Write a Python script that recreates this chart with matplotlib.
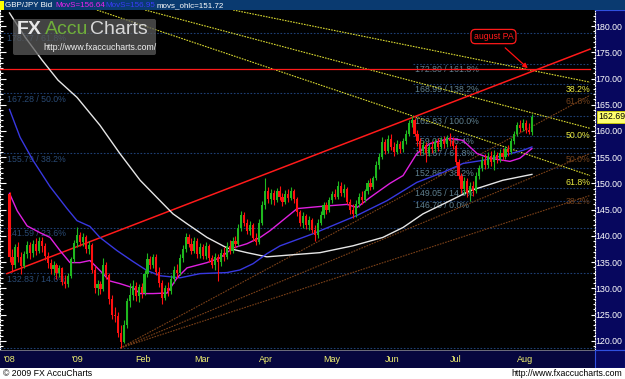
import numpy as np
import matplotlib
matplotlib.use("Agg")
import matplotlib.pyplot as plt
from matplotlib.patches import Rectangle, FancyBboxPatch

plt.rcParams['font.family'] = ['Liberation Sans', 'DejaVu Sans']

# daily candles, 3 Dec 2008 .. 10 Aug 2009 (bar index 0..178)
opens = [148.0, 136.0, 134.5, 137.8, 136.0, 134.2, 136.5, 138.2, 136.8, 138.5, 137.2, 139.0, 138.0, 136.2, 134.8,
         133.6, 134.5, 133.0, 133.8, 131.2, 130.8, 132.4, 135.5, 138.6, 140.2, 138.8, 139.8, 137.5, 138.2, 133.5,
         130.0, 130.8, 129.8, 134.5, 132.5, 128.0, 125.0, 124.8, 121.5, 119.8, 123.0, 127.5, 128.8, 130.5, 128.5,
         130.2, 129.2, 132.8, 135.6, 134.5, 136.0, 133.2, 131.0, 128.2, 130.0, 129.4, 131.8, 133.5, 133.0, 135.8,
         137.5, 139.8, 138.5, 137.2, 139.0, 136.5, 137.8, 136.2, 138.0, 135.8, 134.5, 136.0, 135.0, 136.8, 136.0,
         138.0, 137.2, 139.0, 138.4, 141.5, 144.0, 142.5, 141.0, 142.0, 139.5, 138.8, 142.5, 145.8, 148.5, 147.0,
         148.2, 146.8, 148.5, 147.5, 146.5, 148.0, 147.2, 148.6, 147.0, 144.5, 142.5, 143.8, 142.0, 143.0, 141.2,
         140.2, 142.5, 144.0, 145.8, 145.0, 146.8, 148.0, 147.5, 149.5, 148.2, 149.0, 146.5, 145.0, 144.2, 146.0,
         147.5, 146.8, 148.5, 150.0, 149.4, 151.0, 153.5, 155.0, 157.8, 156.2, 158.4, 157.0, 156.0, 157.5, 156.5,
         158.0, 159.5, 161.5, 162.0, 159.5, 158.0, 156.2, 157.4, 155.8, 157.0, 156.5, 157.8, 157.0, 158.2, 157.5,
         158.6, 158.0, 157.2, 154.0, 151.5, 149.0, 150.5, 148.2, 149.5, 148.6, 151.5, 153.0, 154.5, 153.5, 155.2,
         154.0, 155.5, 154.6, 155.8, 155.0, 156.5, 156.0, 158.0, 159.5, 161.2, 160.5, 161.5, 160.2, 159.8]
highs = [148.4, 137.5, 138.5, 138.8, 137.0, 137.2, 139.0, 138.8, 139.3, 139.6, 139.8, 139.8, 138.6, 137.0, 135.5,
         135.2, 134.8, 134.4, 134.0, 132.6, 133.0, 136.0, 139.2, 141.6, 140.8, 140.5, 140.2, 139.0, 138.6, 134.2,
         131.6, 131.4, 135.8, 135.0, 133.0, 128.8, 126.5, 125.5, 123.0, 124.0, 128.2, 131.0, 131.5, 131.2, 130.8,
         131.0, 133.5, 136.8, 136.2, 136.6, 136.5, 134.0, 131.5, 130.6, 131.2, 132.5, 134.2, 134.6, 136.5, 138.2,
         140.6, 140.4, 139.6, 139.8, 139.5, 138.6, 138.4, 138.8, 138.5, 136.4, 136.8, 136.5, 137.5, 137.8, 138.8,
         139.2, 139.8, 140.0, 142.2, 144.8, 144.5, 143.2, 142.8, 142.4, 140.5, 143.2, 146.6, 151.1, 149.4, 149.0,
         148.8, 149.2, 149.5, 148.2, 148.8, 149.0, 149.3, 149.0, 147.4, 145.0, 144.6, 144.2, 143.8, 143.4, 142.0,
         143.2, 144.8, 146.4, 146.5, 147.5, 148.6, 149.0, 150.5, 150.2, 149.8, 149.4, 147.0, 146.0, 146.8, 148.2,
         148.5, 149.0, 150.6, 151.0, 151.5, 154.2, 155.8, 158.8, 158.4, 159.2, 159.5, 157.8, 158.2, 158.0, 158.6,
         160.2, 162.0, 162.8, 162.4, 160.2, 158.6, 158.0, 157.8, 157.6, 158.0, 158.4, 158.6, 158.8, 159.0, 159.2,
         159.7, 158.8, 157.6, 154.6, 152.0, 151.2, 151.0, 150.2, 150.4, 152.2, 153.6, 155.2, 155.6, 156.0, 156.2,
         156.3, 156.0, 156.5, 156.8, 157.2, 157.4, 158.6, 160.0, 161.8, 162.0, 162.2, 162.0, 161.6, 163.3]
lows = [135.0, 133.2, 133.8, 135.0, 132.8, 133.8, 135.8, 135.5, 136.0, 136.4, 136.8, 137.0, 135.4, 133.8, 132.8,
        132.6, 131.8, 132.2, 130.6, 130.0, 130.2, 132.0, 135.0, 137.8, 138.0, 138.0, 136.8, 136.5, 133.0, 129.2,
        128.8, 129.0, 129.5, 131.8, 127.0, 124.2, 123.5, 120.8, 118.6, 119.5, 122.5, 126.5, 127.8, 127.6, 127.4,
        128.2, 128.8, 132.2, 133.6, 133.8, 132.6, 130.2, 127.0, 127.8, 128.5, 129.0, 131.0, 132.0, 132.6, 135.0,
        137.0, 137.8, 136.5, 136.8, 135.8, 135.8, 135.5, 135.6, 135.0, 133.8, 133.5, 131.4, 134.2, 135.2, 135.6,
        136.6, 136.8, 137.6, 138.0, 141.0, 141.8, 140.4, 140.2, 139.0, 138.2, 138.4, 142.0, 145.2, 146.2, 146.0,
        145.8, 146.4, 146.8, 145.6, 146.0, 146.5, 146.8, 146.2, 143.8, 141.8, 141.5, 141.4, 141.2, 140.6, 139.1,
        139.6, 142.0, 143.5, 144.2, 144.6, 146.2, 147.0, 147.0, 147.6, 147.5, 146.0, 144.2, 143.4, 143.6, 145.5,
        146.0, 146.4, 148.0, 148.8, 149.0, 150.6, 152.8, 154.6, 155.6, 155.8, 156.4, 155.2, 155.6, 155.8, 156.0,
        157.5, 159.0, 160.8, 159.0, 157.2, 155.4, 155.6, 154.0, 155.2, 155.8, 156.0, 156.2, 156.6, 156.8, 157.0,
        157.2, 156.6, 153.6, 150.8, 148.2, 148.0, 147.4, 146.7, 147.6, 148.2, 150.8, 152.4, 152.8, 153.0, 153.4,
        152.6, 153.8, 154.0, 154.5, 154.6, 155.2, 155.6, 157.6, 159.0, 159.8, 160.0, 159.6, 159.4, 159.2]
closes = [136.0, 134.5, 137.8, 136.0, 134.2, 136.5, 138.2, 136.8, 138.5, 137.2, 139.0, 138.0, 136.2, 134.8, 133.6,
          134.5, 133.0, 133.8, 131.2, 130.8, 132.4, 135.5, 138.6, 140.2, 138.8, 139.8, 137.5, 138.2, 133.5, 130.0,
          130.8, 129.8, 134.5, 132.5, 128.0, 125.0, 124.8, 121.5, 119.8, 123.0, 127.5, 128.8, 130.5, 128.5, 130.2,
          129.2, 132.8, 135.6, 134.5, 136.0, 133.2, 131.0, 128.2, 130.0, 129.4, 131.8, 133.5, 133.0, 135.8, 137.5,
          139.8, 138.5, 137.2, 139.0, 136.5, 137.8, 136.2, 138.0, 135.8, 134.5, 136.0, 135.0, 136.8, 136.0, 138.0,
          137.2, 139.0, 138.4, 141.5, 144.0, 142.5, 141.0, 142.0, 139.5, 138.8, 142.5, 145.8, 148.5, 147.0, 148.2,
          146.8, 148.5, 147.5, 146.5, 148.0, 147.2, 148.6, 147.0, 144.5, 142.5, 143.8, 142.0, 143.0, 141.2, 140.2,
          142.5, 144.0, 145.8, 145.0, 146.8, 148.0, 147.5, 149.5, 148.2, 149.0, 146.5, 145.0, 144.2, 146.0, 147.5,
          146.8, 148.5, 150.0, 149.4, 151.0, 153.5, 155.0, 157.8, 156.2, 158.4, 157.0, 156.0, 157.5, 156.5, 158.0,
          159.5, 161.5, 162.0, 159.5, 158.0, 156.2, 157.4, 155.8, 157.0, 156.5, 157.8, 157.0, 158.2, 157.5, 158.6,
          158.0, 157.2, 154.0, 151.5, 149.0, 150.5, 148.2, 149.5, 148.6, 151.5, 153.0, 154.5, 153.5, 155.2, 154.0,
          155.5, 154.6, 155.8, 155.0, 156.5, 156.0, 158.0, 159.5, 161.2, 160.5, 161.5, 160.2, 159.8, 162.69]

# moving averages, sampled (bar index, value)
ma_fast_x = [0, 2.6, 6.0, 10.4, 13.8, 17.2, 20.6, 24.0, 27.4, 30.8, 34.2, 37.6, 42.1, 44.5, 48.9, 53.7, 57.1, 60.5,
             67.3, 71.7, 76.2, 80.9, 85.4, 88.8, 98.0, 105.8, 115.0, 118.4, 122.8, 129.6, 134.1, 138.8, 143.3, 150.1,
             154.5, 159.3, 163.7, 170.5, 173.9, 178]
ma_fast_y = [148.1, 144.8, 141.9, 140.6, 139.7, 137.2, 134.9, 134.9, 135.3, 133.4, 131.4, 130.9, 130.1, 129.0, 129.0,
             129.1, 132.0, 133.9, 134.9, 135.8, 137.7, 138.5, 139.7, 141.0, 145.2, 145.6, 146.0, 145.4, 147.3, 150.0,
             151.5, 155.7, 157.6, 158.6, 158.2, 155.7, 154.8, 154.2, 154.8, 156.64]
ma_mid_x = [0, 3.6, 8.0, 13.8, 19.6, 23.0, 27.4, 30.8, 36.6, 42.1, 46.8, 51.3, 58.1, 64.9, 74.1, 78.5, 83.0, 87.7,
            92.2, 103.4, 118.4, 128.6, 138.8, 147.7, 154.5, 161.3, 168.1, 174.9, 178]
ma_mid_y = [164.1, 158.8, 154.4, 149.4, 145.2, 142.9, 141.8, 139.7, 137.2, 135.1, 133.4, 132.4, 132.0, 132.8, 133.0,
            133.5, 134.7, 136.6, 138.1, 140.4, 143.9, 146.7, 150.2, 152.1, 153.8, 154.4, 155.3, 156.3, 156.95]
ma_slow_x = [0, 5.3, 11.1, 16.5, 23.0, 30.8, 37.6, 44.5, 51.3, 55.7, 60.5, 67.3, 74.1, 80.9, 87.7, 96.6, 105.8,
             117.0, 127.2, 134.1, 140.9, 150.1, 156.9, 168.1, 178]
ma_slow_y = [182.5, 177.9, 173.5, 169.7, 166.4, 161.1, 155.7, 150.6, 146.7, 144.2, 142.3, 139.7, 137.7, 136.8, 136.0,
             136.4, 136.8, 138.1, 139.7, 141.6, 144.2, 146.7, 148.6, 150.6, 151.72]

# fibonacci retracement (whole chart) and extension (Jun-Aug)
fib_levels = [178.77, 167.28, 155.79, 141.59, 132.83, 118.58]
fib_pcts = ['61.8%', '50.0%', '38.2%', '23.6%', '14.6%', '0.0%']
ext_levels = [172.80, 168.99, 162.83, 159.02, 156.67, 152.86, 149.05, 146.70]
ext_pcts = ['161.8%', '138.2%', '100.0%', '76.4%', '61.8%', '38.2%', '14.6%', '0.0%']

# trend lines: (start bar, start price, end bar, end price)
red_trend = [-0.9, 132.8, 197.8, 175.6]
red_level = [-3.2, 171.72, 197.8, 171.72]
yellow_fan = [[76.2, 183.06, 197.8, 169.3], [46.2, 183.06, 197.8, 160.5], [29.8, 183.06, 197.8, 151.5]]
yellow_pcts = ['38.2%', '50.0%', '61.8%']
brown_fan = [[37.7, 118.62, 197.8, 166.8], [37.7, 118.62, 197.8, 155.7], [37.7, 118.62, 197.8, 147.7]]
brown_pcts = ['61.8%', '50.0%', '38.2%']

month_idx = [-2, 21, 43, 63, 85, 107, 128, 150, 173]
month_lbl = ["'08", "'09", 'Feb', 'Mar', 'Apr', 'May', 'Jun', 'Jul', 'Aug']
last_price = 162.69

W, H = 625, 379
fig = plt.figure(figsize=(W / 100, H / 100), dpi=100, facecolor='white')

def fr(x0, y0, x1, y1):
    # pixel box -> figure fraction rect
    return [x0 / W, 1 - y1 / H, (x1 - x0) / W, (y1 - y0) / H]

ymin, ymax = 118.24, 183.06
xmin, xmax = -3.24, 199.5

ax = fig.add_axes(fr(0, 10, 595, 350), facecolor='black')
ax.set_xlim(xmin, xmax)
ax.set_ylim(ymin, ymax)
for s in ax.spines.values():
    s.set_visible(False)
ax.spines['left'].set_visible(True)
ax.spines['left'].set_color('white')
ax.spines['left'].set_linestyle((0, (1, 1.5)))
ax.set_yticks(np.arange(120, 181, 5))
ax.set_yticks(np.arange(119, 183, 1), minor=True)
ax.tick_params(axis='y', which='both', direction='in', colors='white', labelleft=False, width=0.8)
ax.tick_params(axis='y', which='major', length=4)
ax.tick_params(axis='y', which='minor', length=2)
ax.set_xticks([])

# fib lines
for lv, pc in zip(fib_levels, fib_pcts):
    ax.axhline(lv, color='#1e3f73', lw=0.8, ls=(0, (1.5, 1.5)), zorder=1)
    if lv > 120:
        ax.text(-0.8, lv - 1.2, f'{lv:.2f} / {pc}', color='#2a4a74', fontsize=6.3, va='center', ha='left', zorder=1)
for lv, pc in zip(ext_levels, ext_pcts):
    ax.plot([137.5, 197.8], [lv, lv], color='#1e3f73', lw=0.8, ls=(0, (1.5, 1.5)), zorder=1)
    ax.text(138.2, lv - 1.0, f'{lv:.2f} / {pc}', color='#5f8090', fontsize=6.3, va='center', ha='left', zorder=1)

# fans
for (x0, y0, x1, y1), pc in zip(yellow_fan, yellow_pcts):
    ax.plot([x0, x1], [y0, y1], color='#d8d830', lw=0.8, ls=(0, (1.5, 1)), zorder=2)
    ax.text(197.8, y1 - 1.4, pc, color='#e8e840', fontsize=6.3, ha='right', va='center', zorder=2)
for (x0, y0, x1, y1), pc in zip(brown_fan, brown_pcts):
    ax.plot([x0, x1], [y0, y1], color='#7a4018', lw=0.8, ls=(0, (1.5, 1)), zorder=2)
    ax.text(197.8, y1 - 1.2, pc, color='#70401c', fontsize=6.3, ha='right', va='center', zorder=2)

ax.plot(red_trend[::2], red_trend[1::2], color='#ff1a1a', lw=1.1, zorder=3)
ax.plot(red_level[::2], red_level[1::2], color='#ff1a1a', lw=0.9, zorder=3)

# moving averages
ax.plot(ma_slow_x, ma_slow_y, color='#e6e6e6', lw=1.0, zorder=4)
ax.plot(ma_mid_x, ma_mid_y, color='#3838e0', lw=1.0, zorder=4)
ax.plot(ma_fast_x, ma_fast_y, color='#e020e0', lw=1.0, zorder=4)

# candles
o = np.array(opens); h = np.array(highs); l = np.array(lows); c = np.array(closes)
idx = np.arange(len(o))
up = c >= o
cols = np.where(up, '#1fb81f', '#ff1010')
ax.vlines(idx, l, h, colors=cols, lw=0.8, zorder=5)
body = np.maximum(np.abs(c - o), 0.15)
ax.bar(idx, body, bottom=np.minimum(o, c), width=0.72, color=cols, lw=0, zorder=5)

# annotation
ax.annotate('', xy=(177.3, 171.6), xytext=(168.2, 176.2),
            arrowprops=dict(arrowstyle='-|>', color='#ff1010', lw=0.9, mutation_scale=7), zorder=6)
ax.text(164.9, 178.0, 'august PA', color='#ff1a1a', fontsize=6.3, ha='center', va='center', zorder=6,
        bbox=dict(boxstyle='round,pad=0.3,rounding_size=0.5', fc='black', ec='#ff1a1a', lw=0.9))

# right price panel
axr = fig.add_axes(fr(595, 10, 625, 350), facecolor='#07075e')
axr.set_ylim(ymin, ymax)
axr.set_xlim(0, 1)
axr.set_xticks([])
for s in axr.spines.values():
    s.set_color('#3050e0')
axr.spines['left'].set_color('white')
axr.spines['left'].set_linestyle((0, (1, 1.5)))
axr.set_yticks(np.arange(120, 181, 5))
axr.set_yticklabels([f'{v:.2f}' for v in np.arange(120, 181, 5)])
axr.set_yticks(np.arange(119, 183, 1), minor=True)
axr.tick_params(axis='y', which='both', direction='out', colors='white', labelsize=6.3, pad=-3.5, width=0.8)
axr.tick_params(axis='y', which='major', length=3)
axr.tick_params(axis='y', which='minor', length=1.5)
for t in axr.get_yticklabels():
    t.set_ha('left')
axr.text(0.12, last_price, f'{last_price:.2f}', fontsize=6.3, color='black', ha='left', va='center',
         bbox=dict(boxstyle='square,pad=0.15', fc='#ffff70', ec='#d0d000', lw=0.6), zorder=5)

# overlay for frame pieces
ov = fig.add_axes([0, 0, 1, 1], facecolor='none')
ov.set_xlim(0, W)
ov.set_ylim(H, 0)
ov.axis('off')
ov.add_patch(Rectangle((0, 0), W, 10, color='#0a3a70', lw=0))
ov.add_patch(Rectangle((0, 1), 3.5, 9, color='#ffff00', lw=0))
ov.add_patch(Rectangle((0, 350), W, 18, color='#06063e', lw=0))
ov.add_patch(Rectangle((0, 350), 595, 1, color='#6a6a7a', lw=0))
ov.add_patch(Rectangle((595, 350), 30, 18, fc='#07075e', ec='#3050e0', lw=0.8))
ov.add_patch(Rectangle((0, 368), W, 11, color='white', lw=0))

ov.text(5, 5.3, 'GBP/JPY Bid', color='white', fontsize=5.8, va='center', ha='left')
ov.text(55, 5.3, 'MovS=156.64', color='#f020f0', fontsize=5.8, va='center', ha='left')
ov.text(105, 5.3, 'MovS=156.95', color='#3a3af8', fontsize=5.8, va='center', ha='left')
ov.text(157, 5.3, 'movs_ohlc=151.72', color='white', fontsize=5.8, va='center', ha='left')

# watermark logo
ov.add_patch(FancyBboxPatch((13, 19), 143, 36, boxstyle='round,pad=0,rounding_size=2',
                            fc='#5a5a5a', ec='none', alpha=0.75))
ov.text(17, 30, 'FX', color='#e8e8e8', fontsize=14, fontweight='bold', va='center', ha='left')
ov.text(45, 30, 'Accu', color='#6fae3a', fontsize=14, va='center', ha='left')
ov.text(90, 30, 'Charts', color='#d8d8d8', fontsize=14, va='center', ha='left')
ov.text(43, 48, 'http://www.fxaccucharts.com/', color='#f0f0f0', fontsize=6.3, va='center', ha='left')

# date labels
for mi, ml in zip(month_idx, month_lbl):
    px = (mi - xmin) / (xmax - xmin) * 595
    ov.text(px, 360, ml, color='#f0f070', fontsize=6.5, va='center', ha='left')

ov.text(3, 374, '\u00a9 2009 FX AccuCharts', color='black', fontsize=6.3, va='center', ha='left')
ov.text(622, 374, 'http://www.fxaccucharts.com', color='black', fontsize=6.3, va='center', ha='right')

fig.savefig('out.png', dpi=100, facecolor='white')
